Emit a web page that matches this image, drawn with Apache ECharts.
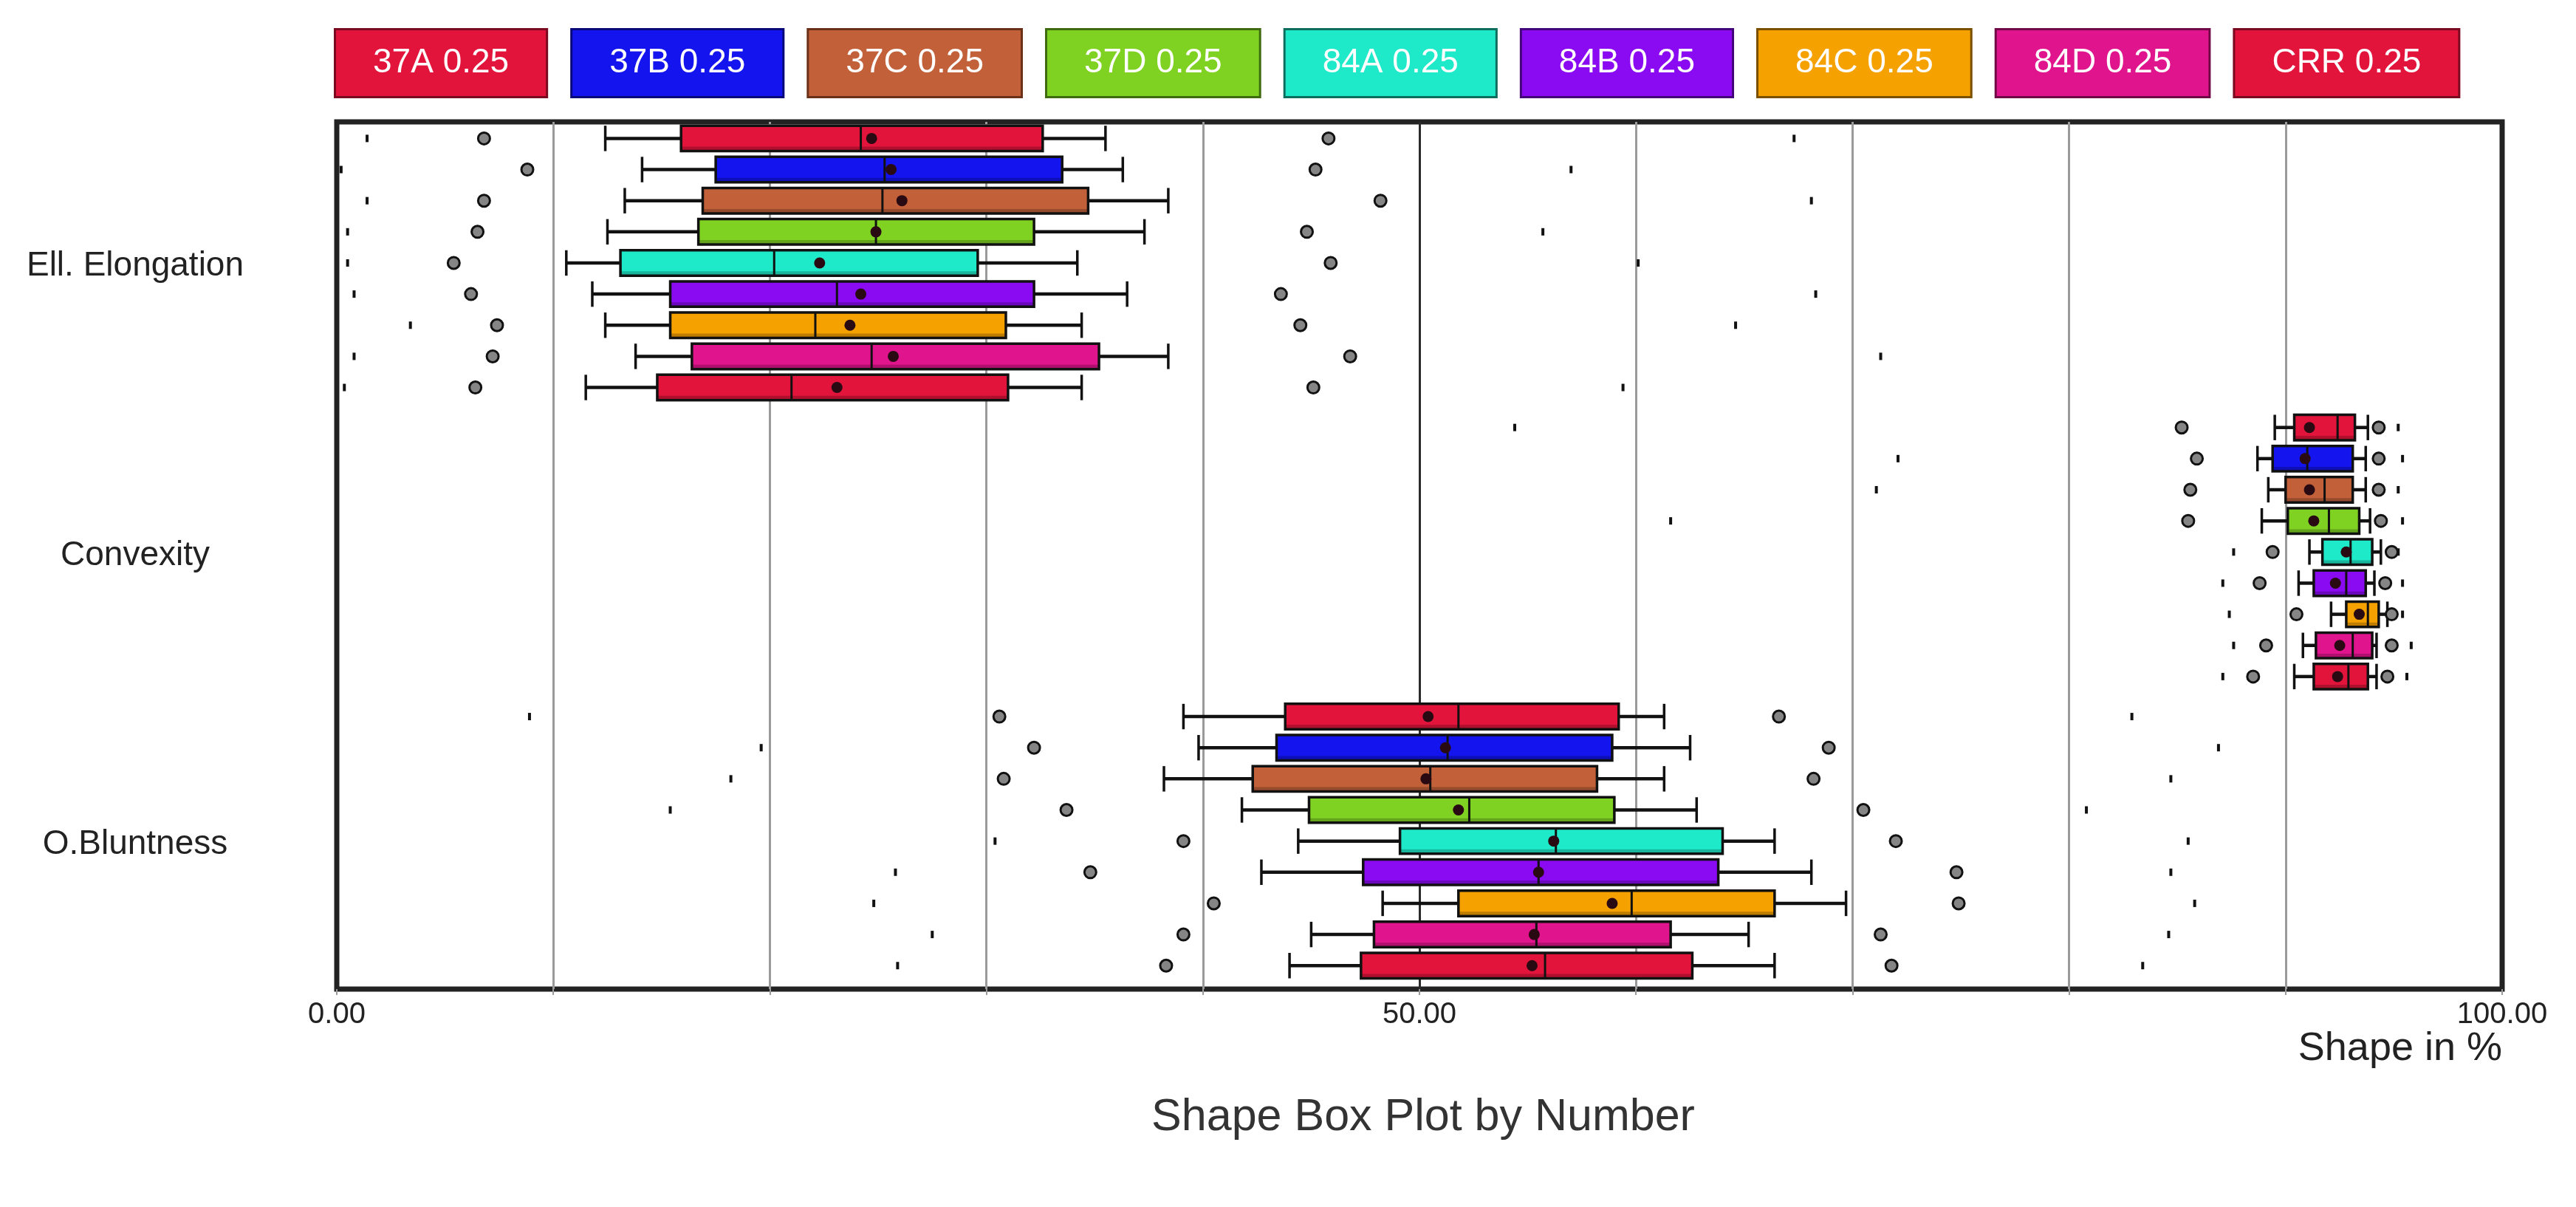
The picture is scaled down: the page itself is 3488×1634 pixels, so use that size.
<!DOCTYPE html>
<html>
<head>
<meta charset="utf-8">
<script src="https://cdn.jsdelivr.net/npm/echarts@6/dist/echarts.min.js"></script>
<style>html,body{margin:0;padding:0;background:#fff}#c{width:3488px;height:1634px}</style>
</head>
<body>
<div id="c"></div>
<script>
const categories = ['Ell. Elongation', 'Convexity', 'O.Bluntness'];
const seriesNames = ['37A 0.25', '37B 0.25', '37C 0.25', '37D 0.25', '84A 0.25', '84B 0.25', '84C 0.25', '84D 0.25', 'CRR 0.25'];
const xLabelValues = [0, 50, 100];
const xAxisTitle = 'Shape in %';
const chartTitle = 'Shape Box Plot by Number';

// per series: [low whisker, Q1, median, Q3, high whisker, mean]
const elongationBoxes = [
  [12.4, 15.9, 24.2, 32.6, 35.5, 24.7],
  [14.1, 17.5, 25.3, 33.5, 36.3, 25.6],
  [13.3, 16.9, 25.2, 34.7, 38.4, 26.1],
  [12.5, 16.7, 24.9, 32.2, 37.3, 24.9],
  [10.6, 13.1, 20.2, 29.6, 34.2, 22.3],
  [11.8, 15.4, 23.1, 32.2, 36.5, 24.2],
  [12.4, 15.4, 22.1, 30.9, 34.4, 23.7],
  [13.8, 16.4, 24.7, 35.2, 38.4, 25.7],
  [11.5, 14.8, 21.0, 31.0, 34.4, 23.1]
];
const convexityBoxes = [
  [89.5, 90.4, 92.4, 93.2, 93.8, 91.1],
  [88.7, 89.4, 91.0, 93.1, 93.7, 90.9],
  [89.2, 90.0, 91.8, 93.1, 93.7, 91.1],
  [88.9, 90.1, 92.0, 93.4, 93.9, 91.3],
  [91.1, 91.7, 93.0, 94.0, 94.4, 92.8],
  [90.6, 91.3, 92.8, 93.7, 94.1, 92.3],
  [92.1, 92.8, 93.8, 94.3, 94.7, 93.4],
  [90.8, 91.4, 93.1, 94.0, 94.2, 92.5],
  [90.4, 91.3, 92.9, 93.8, 94.2, 92.4]
];
const bluntnessBoxes = [
  [39.1, 43.8, 51.8, 59.2, 61.3, 50.4],
  [39.8, 43.4, 51.3, 58.9, 62.5, 51.2],
  [38.2, 42.3, 50.5, 58.2, 61.3, 50.3],
  [41.8, 44.9, 52.3, 59.0, 62.8, 51.8],
  [44.4, 49.1, 56.3, 64.0, 66.4, 56.2],
  [42.7, 47.4, 55.5, 63.8, 68.1, 55.5],
  [48.3, 51.8, 59.8, 66.4, 69.7, 58.9],
  [45.0, 47.9, 55.4, 61.6, 65.2, 55.3],
  [44.0, 47.3, 55.8, 62.6, 66.4, 55.2]
];

// per series: [extreme low, outlier low, outlier high, extreme high]
const elongationOutliers = [
  [1.4, 6.8, 45.8, 67.3],
  [0.2, 8.8, 45.2, 57.0],
  [1.4, 6.8, 48.2, 68.1],
  [0.5, 6.5, 44.8, 55.7],
  [0.5, 5.4, 45.9, 60.1],
  [0.8, 6.2, 43.6, 68.3],
  [3.4, 7.4, 44.5, 64.6],
  [0.8, 7.2, 46.8, 71.3],
  [0.35, 6.4, 45.1, 59.4]
];
const convexityOutliers = [
  [54.4, 85.2, 94.3, 95.2],
  [72.1, 85.9, 94.3, 95.4],
  [71.1, 85.6, 94.3, 95.2],
  [61.6, 85.5, 94.4, 95.4],
  [87.6, 89.4, 94.9, 95.2],
  [87.1, 88.8, 94.6, 95.4],
  [87.4, 90.5, 94.9, 95.4],
  [87.6, 89.1, 94.9, 95.8],
  [87.1, 88.5, 94.7, 95.6]
];
const bluntnessOutliers = [
  [8.9, 30.6, 66.6, 82.9],
  [19.6, 32.2, 68.9, 86.9],
  [18.2, 30.8, 68.2, 84.7],
  [15.4, 33.7, 70.5, 80.8],
  [30.4, 39.1, 72.0, 85.5],
  [25.8, 34.8, 74.8, 84.7],
  [24.8, 40.5, 74.9, 85.8],
  [27.5, 39.1, 71.3, 84.6],
  [25.9, 38.3, 71.8, 83.4]
];

// styles
const colors = ['#E2143C', '#1414EE', '#C2603A', '#80D222', '#1EEACA', '#8A0AF2', '#F5A100', '#E0148C', '#E2143C'];
const borders = ['#7a0a20', '#08087a', '#6a3018', '#3e6a10', '#0e6e5e', '#45057a', '#7a5000', '#700a46', '#7a0a20'];
const FONT = '"Liberation Sans", Arial, sans-serif';

const boxesByCat = [elongationBoxes, convexityBoxes, bluntnessBoxes];
const outliersByCat = [elongationOutliers, convexityOutliers, bluntnessOutliers];

function renderItem(params, api) {
  const ci = api.value(0);
  const si = params.seriesIndex;
  const band = api.size([0, 1])[1];
  const slot = band * 0.1077;
  const h = band * 0.088;
  const yc = api.coord([0, ci])[1] + (si - 4) * slot - band * 0.012;
  const X = i => api.coord([api.value(i), ci])[0];
  const wl = X(1), q1 = X(2), md = X(3), q3 = X(4), wh = X(5), mn = X(6);
  const lt = X(7), lg = X(8), rg = X(9), rt = X(10);
  const stroke = '#111';
  const top = yc - h / 2, bot = yc + h / 2;
  const children = [
    { type: 'line', shape: { x1: wl, y1: yc, x2: q1, y2: yc }, style: { stroke, lineWidth: 4.5 } },
    { type: 'line', shape: { x1: q3, y1: yc, x2: wh, y2: yc }, style: { stroke, lineWidth: 4.5 } },
    { type: 'line', shape: { x1: wl, y1: top, x2: wl, y2: bot }, style: { stroke, lineWidth: 3.5 } },
    { type: 'line', shape: { x1: wh, y1: top, x2: wh, y2: bot }, style: { stroke, lineWidth: 3.5 } },
    { type: 'rect', shape: { x: q1, y: top, width: q3 - q1, height: h }, style: { fill: colors[si], stroke: 'none' } },
    { type: 'rect', shape: { x: q1, y: bot - 6, width: q3 - q1, height: 6 }, style: { fill: 'rgba(0,0,0,0.22)' } },
    { type: 'rect', shape: { x: q1, y: top, width: q3 - q1, height: h }, style: { fill: 'none', stroke, lineWidth: 3.5 } },
    { type: 'line', shape: { x1: md, y1: top, x2: md, y2: bot }, style: { stroke, lineWidth: 3 } },
    { type: 'circle', shape: { cx: mn, cy: yc, r: 7.5 }, style: { fill: '#2a0a12' } },
    { type: 'rect', shape: { x: lt - 2, y: yc - 5, width: 4, height: 10 }, style: { fill: '#111' } },
    { type: 'rect', shape: { x: rt - 2, y: yc - 5, width: 4, height: 10 }, style: { fill: '#111' } },
    { type: 'circle', shape: { cx: lg, cy: yc, r: 8 }, style: { fill: '#858585', stroke: '#111', lineWidth: 3 } },
    { type: 'circle', shape: { cx: rg, cy: yc, r: 8 }, style: { fill: '#858585', stroke: '#111', lineWidth: 3 } }
  ];
  return { type: 'group', children };
}

const series = seriesNames.map((name, si) => ({
  name,
  type: 'custom',
  coordinateSystem: 'cartesian2d',
  renderItem,
  itemStyle: { color: colors[si] },
  encode: { x: [1, 2, 3, 4, 5], y: 0 },
  data: categories.map((c, ci) => [ci].concat(boxesByCat[ci][si], outliersByCat[ci][si]))
}));

const splitColors = [];
for (let v = 0; v <= 100; v += 10) splitColors.push(v === 0 || v === 100 ? '#222' : (v === 50 ? '#2a2a2a' : '#9a9a9a'));

const chart = echarts.init(document.getElementById('c'), null, { renderer: 'canvas' });
chart.setOption({
  animation: false,
  backgroundColor: '#fff',
  textStyle: { fontFamily: FONT },
  title: {
    text: chartTitle,
    left: 1922,
    top: 1478,
    textAlign: 'center',
    textStyle: { fontFamily: FONT, fontSize: 61, fontWeight: 'normal', color: '#333' }
  },
  graphic: [{
    type: 'text',
    right: 100,
    top: 1393,
    style: { text: xAxisTitle, font: '54px "Liberation Sans", Arial, sans-serif', fill: '#222' }
  }],
  legend: {
    left: 450,
    top: 38,
    padding: 0,
    itemGap: 28,
    itemWidth: 0,
    itemHeight: 0,
    icon: 'rect',
    selectedMode: false,
    textStyle: {
      fontFamily: FONT, fontSize: 46, lineHeight: 51, color: '#fff',
      padding: [19, 50, 19, 50], borderWidth: 3
    },
    data: seriesNames.map((name, si) => ({
      name,
      textStyle: { backgroundColor: colors[si], borderColor: borders[si] }
    }))
  },
  grid: {
    left: 456, right: 100, top: 165, bottom: 295,
    containLabel: false, outerBoundsMode: 'none',
    show: true, borderColor: '#222', borderWidth: 7, backgroundColor: 'transparent'
  },
  xAxis: {
    type: 'value', min: 0, max: 100, interval: 10,
    axisLine: { show: false },
    axisTick: { show: true, length: 8, lineStyle: { color: '#9a9a9a', width: 2 } },
    splitLine: { show: true, lineStyle: { color: splitColors, width: 3 } },
    axisLabel: {
      margin: 15, fontFamily: FONT, fontSize: 40, color: '#222',
      formatter: v => (xLabelValues.indexOf(v) >= 0 ? v.toFixed(2) : '')
    }
  },
  yAxis: {
    type: 'category', data: categories, inverse: true,
    axisLine: { show: false }, axisTick: { show: false }, splitLine: { show: false },
    axisLabel: { margin: 273, align: 'center', fontFamily: FONT, fontSize: 46, color: '#222' }
  },
  series
});
</script>
</body>
</html>
